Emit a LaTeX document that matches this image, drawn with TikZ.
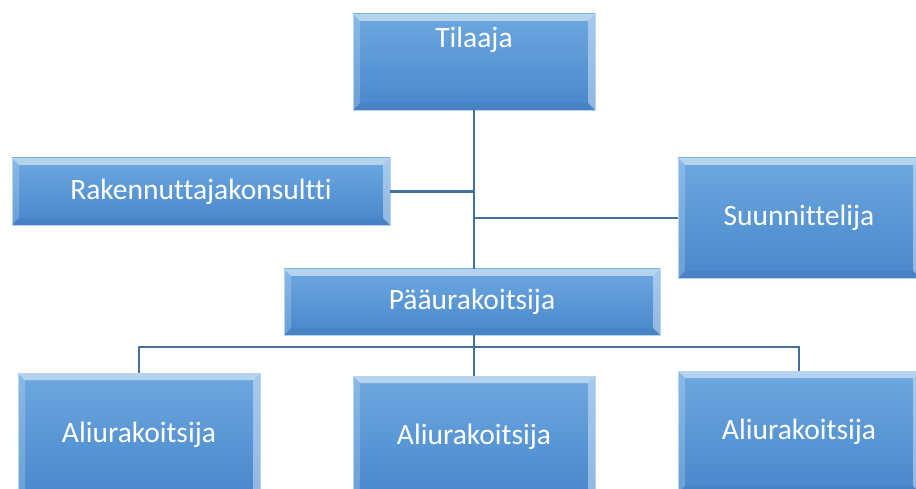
\documentclass[tikz,border=0pt]{standalone}
\usepackage{fontspec}
\setmainfont[Ligatures=CommonOff]{Carlito}
\usetikzlibrary{positioning, calc}
\usepackage{xcolor}
\definecolor{boxtop}{HTML}{6DA8E0}
\definecolor{boxbot}{HTML}{4887CB}
\definecolor{boxedge}{HTML}{B5D6F2}
\definecolor{linkcol}{HTML}{41719F}

\begin{document}
\begin{tikzpicture}[
    x=1pt, y=-1pt,
    every node/.style={font=\fontsize{29.5}{33}\selectfont},
    orgbox/.style={draw=boxedge, line width=0.8pt, top color=boxtop, bottom color=boxbot,
        minimum width=242pt, inner sep=0pt, text=white,
        path picture={
            % bevel strips
            \fill[white, fill opacity=0.5] (path picture bounding box.north west) -- (path picture bounding box.north east)
                -- ([xshift=-7pt, yshift=-7pt]path picture bounding box.north east) -- ([xshift=7pt, yshift=-7pt]path picture bounding box.north west) -- cycle;
            \fill[white, fill opacity=0.2] (path picture bounding box.north west) -- ([xshift=7pt, yshift=-7pt]path picture bounding box.north west)
                -- ([xshift=7pt, yshift=7pt]path picture bounding box.south west) -- (path picture bounding box.south west) -- cycle;
            \fill[white, fill opacity=0.4] (path picture bounding box.north east) -- ([xshift=-7pt, yshift=-7pt]path picture bounding box.north east)
                -- ([xshift=-7pt, yshift=7pt]path picture bounding box.south east) -- (path picture bounding box.south east) -- cycle;
            \fill[black, fill opacity=0.04] (path picture bounding box.south west) -- ([xshift=7pt, yshift=7pt]path picture bounding box.south west)
                -- ([xshift=-7pt, yshift=7pt]path picture bounding box.south east) -- (path picture bounding box.south east) -- cycle;
        }},
    link/.style={draw=linkcol, line width=2.8pt},
]
\useasboundingbox (0,0) rectangle (916,489);
\clip (0,0) rectangle (916,489);

\node[orgbox, minimum height=96pt,
    label={[anchor=north, inner sep=0pt, text=white, yshift=-13pt]north:Tilaaja}] (tilaaja) at (474,62) {};
\node[orgbox, minimum width=378pt, minimum height=67pt] (rakkons) at (201,191.5) {Rakennuttajakonsultti};
\node[orgbox, minimum height=120pt] (suunn) at (799,218) {Suunnittelija};
\node[orgbox, minimum width=376pt, minimum height=66pt] (paaurak) at (472,302) {Pääurakoitsija};
\node[orgbox, minimum height=124pt] (aliurak1) at (139,435) {Aliurakoitsija};
\node[orgbox, minimum height=122pt] (aliurak2) at (474,437) {Aliurakoitsija};
\node[orgbox, minimum height=122pt] (aliurak3) at (799,432) {Aliurakoitsija};

\coordinate (bus) at (474,347);

% Connectors
\draw[link] (tilaaja.south) -- (tilaaja.south |- paaurak.north);
\draw[link] (rakkons.east) -- (rakkons.east -| tilaaja.south);
\draw[link] (suunn.west) -- (suunn.west -| tilaaja.south);
\draw[link] (bus |- paaurak.south) -- (bus);
\draw[link] (aliurak1.north) -- (aliurak1.north |- bus) -- (aliurak3.north |- bus) -- (aliurak3.north);
\draw[link] (bus) -- (aliurak2.north);

\end{tikzpicture}
\end{document}
